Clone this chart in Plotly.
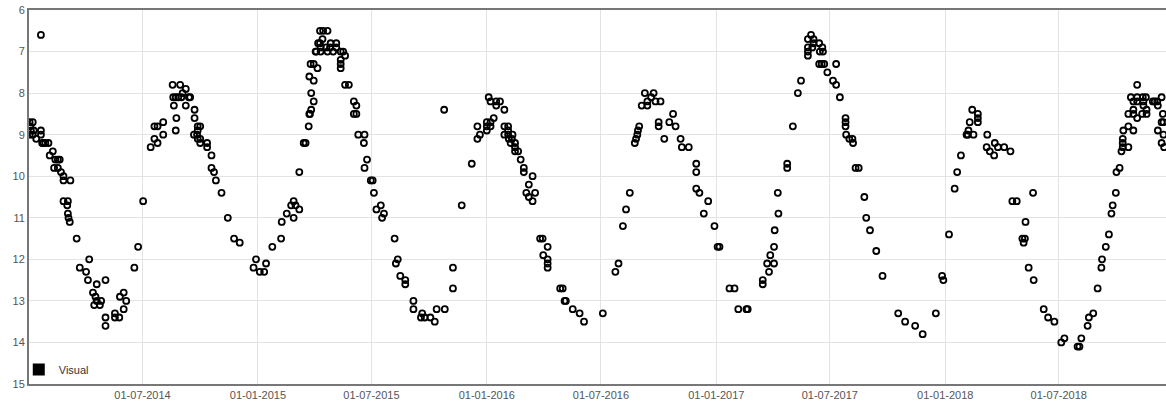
import pandas as pd
import plotly.graph_objects as go

# Measurement day (days since 2014-01-01) and groundwater depth (m), series "Visual"
start_date = "2014-01-01"
days = [
    1, 1, 2, 3, 6, 6, 7.5, 11.5,
    19, 19, 19, 21, 23, 26, 31, 33, 38, 40, 42, 46, 46, 49, 51, 55, 55, 66, 55, 62, 61, 62, 63, 65,
    76, 81, 91, 94, 96, 102, 104, 106, 108, 108, 113, 115, 122, 122, 122, 137, 137, 144, 145, 151,
    151, 155, 168, 174, 182, 194, 200, 200, 205, 205, 214, 214,
    229, 230, 231, 234, 234, 235, 238, 241, 243, 245, 250, 250, 255, 257, 263, 264, 264, 268, 269,
    269, 269, 273, 273, 273, 284, 284, 291, 291, 295, 298, 307, 317, 327, 336, 358, 362, 368, 375,
    378, 388, 402, 403, 411, 418, 422, 422, 425, 431, 431, 438, 441,
    446, 447, 448, 450, 450, 454, 447, 454, 449, 454, 460, 457,
    458, 461, 464, 464, 465, 465, 468, 469, 474, 476, 476, 480, 481, 485, 490, 490, 497, 497, 497,
    497, 501, 504, 504, 510, 518, 522, 518, 522, 525, 535, 534, 539, 535, 545, 548, 550, 554, 561,
    566, 563, 583, 588, 585, 592, 600, 600, 613, 613, 627, 625, 631, 640, 647, 650, 663, 662, 676, 676,
    690, 706, 715, 719, 715, 730, 730, 730, 736, 736, 741, 733, 736, 745, 751, 745, 758, 758, 764,
    764, 758, 764, 771, 765, 770, 768, 775, 775, 775, 780, 784, 789, 789, 803, 797, 793, 807, 797,
    803, 815, 819, 827, 820, 827, 827, 827, 847, 851, 854, 856, 867, 878, 885,
    915, 935, 940, 947, 952, 958, 966, 968, 970, 971, 973, 977, 982, 986, 986, 992, 996, 999, 1007,
    1004, 1004, 1013, 1021, 1027, 1031, 1039, 1041, 1052, 1064, 1064, 1064, 1069, 1083, 1076, 1093,
    1098, 1101, 1117, 1125, 1131, 1144, 1146,
    1170, 1170, 1180, 1177, 1188, 1182, 1188, 1189, 1195, 1194, 1209, 1209, 1218, 1226, 1231, 1242,
    1247, 1242, 1242, 1242, 1251, 1251, 1249, 1260, 1265, 1261, 1266, 1260, 1264, 1268, 1273, 1287,
    1282, 1287, 1293, 1302, 1302, 1302, 1303, 1308, 1313, 1314, 1318, 1323, 1332, 1335, 1341, 1351,
    1361, 1386, 1397, 1413, 1425, 1446, 1456, 1458, 1467, 1476, 1480, 1486, 1495, 1497, 1506, 1498,
    1500, 1504, 1513, 1513, 1513, 1528, 1527, 1532, 1539, 1540, 1545, 1555, 1565, 1568, 1575,
    1601, 1589, 1584, 1588, 1586, 1594, 1602, 1618, 1625, 1635, 1646, 1651, 1672, 1675, 1678, 1688,
    1690, 1697, 1704, 1710, 1711, 1717, 1722, 1726, 1728, 1733, 1734, 1739, 1742, 1744, 1744, 1744,
    1753, 1745, 1753, 1761, 1753, 1761, 1761, 1757, 1761, 1767, 1767, 1767, 1767, 1775, 1776, 1781,
    1777, 1777, 1782, 1782, 1792, 1795, 1799, 1800, 1806, 1808, 1800, 1806, 1809, 1809, 1806, 1810,
]
depth = [
    9.0, 8.7, 8.8, 8.9, 8.7, 9.0, 8.9, 9.1,
    6.6, 8.9, 9.0, 9.2, 9.2, 9.2, 9.2, 9.5, 9.4, 9.8, 9.6, 9.6, 9.8, 9.6, 9.9, 10.0, 10.1, 10.1, 10.6, 10.6, 10.7, 10.9, 11.0, 11.1,
    11.5, 12.2, 12.3, 12.5, 12.0, 12.8, 13.1, 12.9, 12.6, 13.0, 13.1, 13.0, 12.5, 13.4, 13.6, 13.3, 13.4, 13.4, 12.9, 13.2,
    12.8, 13.0, 12.2, 11.7, 10.6, 9.3, 9.1, 8.8, 9.2, 8.8, 9.0, 8.7,
    7.8, 8.1, 8.3, 8.9, 8.1, 8.6, 8.1, 7.8, 8.1, 8.0, 7.9, 8.3, 8.1, 8.1, 9.0, 8.4, 8.6, 9.0, 8.8,
    9.1, 8.9, 8.8, 9.1, 9.2, 9.2, 9.3, 9.5, 9.8, 9.9, 10.1, 10.4, 11.0, 11.5, 11.6, 12.2, 12.0, 12.3, 12.3,
    12.1, 11.7, 11.5, 11.1, 10.9, 10.7, 10.6, 11.0, 10.7, 10.8, 9.9, 9.2, 9.2,
    8.8, 8.5, 8.5, 8.4, 8.0, 8.2, 7.6, 7.7, 7.3, 7.3, 7.4, 7.0,
    7.0, 6.8, 6.8, 6.5, 6.9, 7.0, 6.7, 6.5, 6.9, 6.5, 7.0, 6.9, 6.8, 7.0, 6.8, 6.9, 7.0, 7.2, 7.3,
    7.4, 7.0, 7.1, 7.8, 7.8, 8.2, 8.3, 8.5, 8.5, 9.0, 9.0, 9.2, 9.6, 9.8, 10.1, 10.1, 10.4, 10.8, 10.7,
    10.9, 11.0, 11.5, 12.0, 12.1, 12.4, 12.5, 12.6, 13.0, 13.2, 13.3, 13.4, 13.4, 13.4, 13.5, 13.2, 13.2, 8.4, 12.2, 12.7,
    10.7, 9.7, 9.1, 9.0, 8.8, 8.7, 8.8, 8.9, 8.7, 8.8, 8.6, 8.1, 8.2, 8.2, 8.2, 8.3, 8.4, 8.8, 8.8,
    8.9, 9.0, 9.0, 9.0, 9.1, 9.1, 9.2, 9.2, 9.3, 9.4, 9.4, 9.6, 9.8, 9.9, 10.0, 10.2, 10.4, 10.4, 10.5,
    10.6, 11.5, 11.5, 11.7, 11.9, 12.0, 12.1, 12.2, 12.7, 12.7, 13.0, 13.0, 13.2, 13.3, 13.5,
    13.3, 12.3, 12.1, 11.2, 10.8, 10.4, 9.2, 9.1, 9.0, 8.9, 8.8, 8.3, 8.0, 8.2, 8.3, 8.1, 8.0, 8.2, 8.2,
    8.7, 8.8, 9.1, 8.7, 8.5, 8.8, 9.1, 9.3, 9.3, 9.7, 9.9, 10.3, 10.4, 10.6, 10.9, 11.2,
    11.7, 11.7, 12.7, 12.7, 13.2, 13.2, 13.2,
    12.5, 12.6, 12.3, 12.1, 12.1, 11.9, 11.7, 11.3, 10.9, 10.4, 9.7, 9.8, 8.8, 8.0, 7.7, 6.7,
    6.6, 6.9, 7.0, 7.1, 6.7, 6.8, 6.9, 6.8, 6.9, 7.0, 7.0, 7.3, 7.3, 7.3, 7.5, 7.3,
    7.7, 7.8, 8.1, 8.6, 8.7, 8.8, 9.0, 9.1, 9.1, 9.2, 9.8, 9.8, 10.5, 11.0, 11.3, 11.8,
    12.4, 13.3, 13.5, 13.6, 13.8, 13.3, 12.4, 12.5, 11.4, 10.3, 9.9, 9.5, 9.0, 9.0, 9.0, 8.9,
    8.7, 8.4, 8.5, 8.6, 8.7, 9.0, 9.3, 9.4, 9.5, 9.2, 9.3, 9.3, 9.4, 10.6, 10.6,
    10.4, 11.1, 11.5, 11.5, 11.6, 12.2, 12.5, 13.2, 13.4, 13.5, 14.0, 13.9, 14.1, 14.1, 13.9, 13.6,
    13.4, 13.3, 12.7, 12.2, 12.0, 11.7, 11.4, 10.9, 10.7, 10.4, 9.9, 9.8, 9.4, 9.3, 9.2, 9.1,
    9.3, 8.9, 8.8, 8.9, 8.5, 8.4, 8.5, 8.1, 8.2, 8.1, 8.2, 7.8, 8.6, 8.5, 8.1, 8.1,
    8.2, 8.3, 8.4, 8.5, 8.2, 8.2, 8.2, 8.3, 8.1, 8.5, 8.9, 8.7, 8.7, 9.0, 9.2, 9.3,
]
series_name = "Visual"
tick_dates = ["2014-07-01", "2015-01-01", "2015-07-01", "2016-01-01", "2016-07-01",
              "2017-01-01", "2017-07-01", "2018-01-01", "2018-07-01"]
tick_labels = ["01-07-2014", "01-01-2015", "01-07-2015", "01-01-2016", "01-07-2016",
               "01-01-2017", "01-07-2017", "01-01-2018", "01-07-2018"]
x_range = ["2014-01-01", "2018-12-19"]
y_range = [15, 6]

dates = pd.Timestamp(start_date) + pd.to_timedelta(days, unit="D")

fig = go.Figure()
fig.add_trace(go.Scatter(
    x=dates, y=depth, mode="markers", name=series_name, showlegend=False,
    marker=dict(symbol="circle-open", size=6, color="black", line=dict(width=1.8, color="black")),
))
fig.add_trace(go.Scatter(
    x=[None], y=[None], mode="markers", name=series_name, showlegend=True,
    marker=dict(symbol="square", size=10, color="black"),
))

fig.update_layout(
    width=1166, height=401, autosize=False,
    margin=dict(l=29, r=0, t=10, b=17),
    plot_bgcolor="white", paper_bgcolor="white",
    font=dict(family="Liberation Sans, Arial, sans-serif", size=11, color="#555"),
    showlegend=True,
    legend=dict(x=-0.009, y=0.0, xanchor="left", yanchor="bottom", bgcolor="rgba(0,0,0,0)",
                font=dict(size=11, color="#333"), itemsizing="constant",
                borderwidth=0, tracegroupgap=0),
)
fig.update_xaxes(
    type="date", range=x_range, tickmode="array", tickvals=tick_dates, ticktext=tick_labels,
    showgrid=True, gridcolor="#e3e3e3", gridwidth=1, zeroline=False,
    showline=True, linecolor="#777", linewidth=2, mirror=True, ticks="",
    tickfont=dict(size=11, color="#555"),
)
fig.update_yaxes(
    range=y_range, tick0=6, dtick=1, showgrid=True, gridcolor="#e3e3e3", gridwidth=1,
    zeroline=False, showline=True, linecolor="#777", linewidth=2, mirror=False, ticks="",
    tickfont=dict(size=11, color="#555"),
)

fig.write_html("out.html", config={"displayModeBar": False},
               post_script="document.body.style.margin='0';")
